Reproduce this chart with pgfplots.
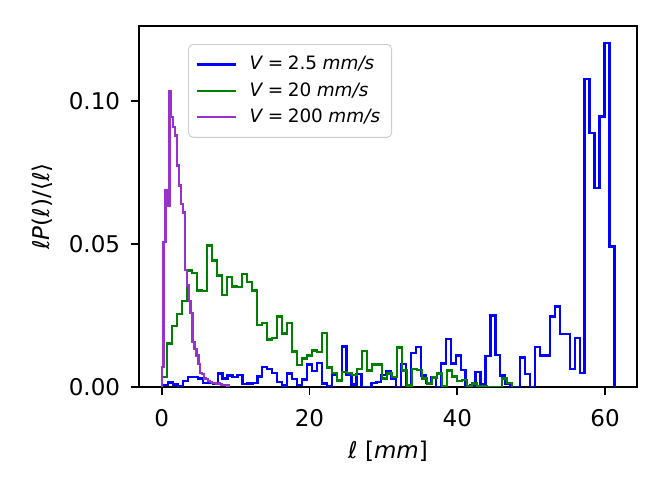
\documentclass[border=0pt]{standalone}
\usepackage{fontspec}
\setmainfont{DejaVu Sans}
\usepackage{pgfplots}
\pgfplotsset{compat=1.18}
\definecolor{mblue}{RGB}{0,0,255}
\definecolor{mgreen}{RGB}{0,128,0}
\definecolor{morchid}{RGB}{153,50,204}
\begin{document}
\begin{tikzpicture}[x=1pt,y=1pt]
\useasboundingbox (-60.4,-48.2) rectangle (227.6,168.1);
\begin{axis}[
  at={(0,0)}, anchor=south west,
  width=216.3pt, height=156.8pt, scale only axis,
  xmin=-3.06, xmax=64.31, ymin=0, ymax=0.1263,
  axis line style={line width=0.8pt},
  tick style={line width=0.8pt, black},
  major tick length=3.5pt, tick align=outside,
  xtick pos=bottom, ytick pos=left,
  xtick={0,20,40,60}, ytick={0,0.05,0.1},
  /pgf/number format/assume math mode=true,
  ticklabel style={font=\fontsize{10}{12}\selectfont},
  xticklabel style={yshift=-2.5pt},
  yticklabel style={xshift=-1.2pt, /pgf/number format/.cd, fixed, fixed zerofill, precision=2},
  label style={font=\fontsize{10}{12}\selectfont},
  xlabel={\textit{ℓ} [\textit{mm}]},
  ylabel={\textit{ℓP}(\textit{ℓ})/⟨\textit{ℓ}⟩},
  xlabel style={at={(axis description cs:0.5,-0.178)}, anchor=center},
  ylabel style={at={(axis description cs:-0.194,0.5)}, anchor=center},
  legend style={at={(0.0984,0.95)}, anchor=north west, font=\fontsize{8}{9.6}\selectfont,
    draw=black!20, rounded corners=2pt, inner xsep=3pt, inner ysep=3pt, row sep=0pt,
    cells={anchor=west}},
  legend image code/.code={\draw[#1,line width=1pt] (-1pt,0pt) -- (16pt,0pt); \path (19.5pt,0pt);},
]
\addplot[mblue, line width=1pt, const plot] coordinates {
(0.2,0) (0.2,0.0008) (0.871,0.0016) (1.542,0.0009) (2.213,0.0003) (2.884,0.0021) (3.555,0.0035) (4.225,0.0035) (4.896,0.0030) (5.567,0.0015) (6.238,0.0015) (6.909,0.0010) (7.580,0.0047) (8.251,0.0030) (8.922,0.0040) (9.593,0.0035) (10.264,0.0042) (10.934,0.0010) (11.605,0.0012) (12.276,0.0015) (12.947,0.0037) (13.618,0.0070) (14.289,0.0062) (14.960,0.0049) (15.631,0.0017) (16.302,0.0005) (16.973,0.0047) (17.643,0.0029) (18.314,0.0006) (18.985,0.0026) (19.656,0.0079) (20.327,0.0055) (20.998,0.0084) (21.669,0.0012) (22.340,0.0003) (23.011,0.0041) (23.682,0.0021) (24.352,0.0142) (25.023,0.0041) (25.694,0.0009) (26.365,0.0045) (27.036,0) (27.707,0) (28.378,0.0014) (29.049,0.0017) (29.720,0.0041) (30.391,0.0056) (31.061,0.0029) (31.732,0) (32.403,0.0080) (33.074,0) (33.745,0.0118) (34.416,0.0139) (35.087,0.0040) (35.758,0.0015) (36.429,0.0034) (37.100,0) (37.770,0.0082) (38.441,0.0169) (39.112,0.0082) (39.783,0.0110) (40.454,0.0060) (41.125,0) (41.796,0.0005) (42.467,0.0052) (43.138,0.0010) (43.809,0.0108) (44.479,0.0250) (45.150,0.0112) (45.821,0.0040) (46.492,0.0010) (47.163,0) (47.834,0) (48.505,0.0103) (49.176,0.0045) (49.847,0) (50.518,0.0141) (51.188,0.0110) (51.859,0.0110) (52.530,0.0247) (53.201,0.0282) (53.872,0.0186) (54.543,0.0186) (55.214,0.0064) (55.885,0.0172) (56.556,0.0049) (57.227,0.1078) (57.897,0.0888) (58.568,0.0697) (59.239,0.0946) (59.910,0.1203) (60.581,0.0492) (61.252,0.0492) (61.252,0)
};
\addlegendentry{\textit{V}\hspace{0.25em}=\hspace{0.25em}2.5\hspace{0.3em}\textit{mm/s}}
\addplot[mgreen, line width=1pt, const plot] coordinates {
(0,0) (0,0.0035) (0.677,0.0152) (1.354,0.0214) (2.031,0.0255) (2.708,0.0300) (3.385,0.0408) (4.062,0.0398) (4.739,0.0338) (5.416,0.0336) (6.093,0.0495) (6.770,0.0443) (7.447,0.0390) (8.124,0.0322) (8.801,0.0385) (9.478,0.0352) (10.155,0.0350) (10.832,0.0396) (11.509,0.0367) (12.186,0.0338) (12.863,0.0216) (13.540,0.0225) (14.217,0.0166) (14.894,0.0172) (15.571,0.0247) (16.248,0.0187) (16.925,0.0224) (17.602,0.0124) (18.279,0.0078) (18.956,0.0100) (19.633,0.0110) (20.310,0.0128) (20.987,0.0122) (21.664,0.0189) (22.341,0.0068) (23.018,0.0049) (23.695,0.0023) (24.372,0.0052) (25.049,0.0049) (25.726,0.0041) (26.403,0.0062) (27.080,0.0127) (27.757,0.0058) (28.434,0.0079) (29.111,0.0079) (29.788,0.0030) (30.465,0.0047) (31.142,0.0035) (31.819,0.0138) (32.496,0.0058) (33.173,0.0005) (33.850,0.0064) (34.527,0.0060) (35.204,0.0030) (35.881,0.0012) (36.558,0.0033) (37.235,0.0047) (37.912,0.0003) (38.589,0.0058) (39.266,0.0037) (39.943,0.0022) (40.620,0.0024) (41.297,0.0003) (41.974,0.0012) (42.651,0.0003) (43.328,0.0002) (44.005,0) (44.682,0) (45.359,0) (46.036,0.0030) (46.713,0.0014) (47.390,0.0014) (47.390,0)
};
\addlegendentry{\textit{V}\hspace{0.25em}=\hspace{0.25em}20\hspace{0.3em}\textit{mm/s}}
\addplot[morchid, line width=1pt, const plot] coordinates {
(0,0) (0,0.0070) (0.261,0.0507) (0.523,0.0690) (0.784,0.0635) (1.045,0.1035) (1.307,0.0944) (1.568,0.0910) (1.829,0.0880) (2.090,0.0775) (2.352,0.0705) (2.613,0.0640) (2.874,0.0610) (3.136,0.0410) (3.397,0.0355) (3.658,0.0300) (3.920,0.0260) (4.181,0.0157) (4.442,0.0134) (4.703,0.0110) (4.965,0.0080) (5.226,0.0050) (5.487,0.0045) (5.749,0.0030) (6.010,0.0028) (6.271,0.0020) (6.533,0.0018) (6.794,0.0015) (7.055,0.0015) (7.316,0.0012) (7.578,0.0012) (7.839,0.0010) (8.100,0.0008) (8.362,0.0008) (8.623,0.0006) (8.884,0.0005) (9.146,0.0005) (9.146,0)
};
\addlegendentry{\textit{V}\hspace{0.25em}=\hspace{0.25em}200\hspace{0.3em}\textit{mm/s}}
\end{axis}
\end{tikzpicture}
\end{document}
